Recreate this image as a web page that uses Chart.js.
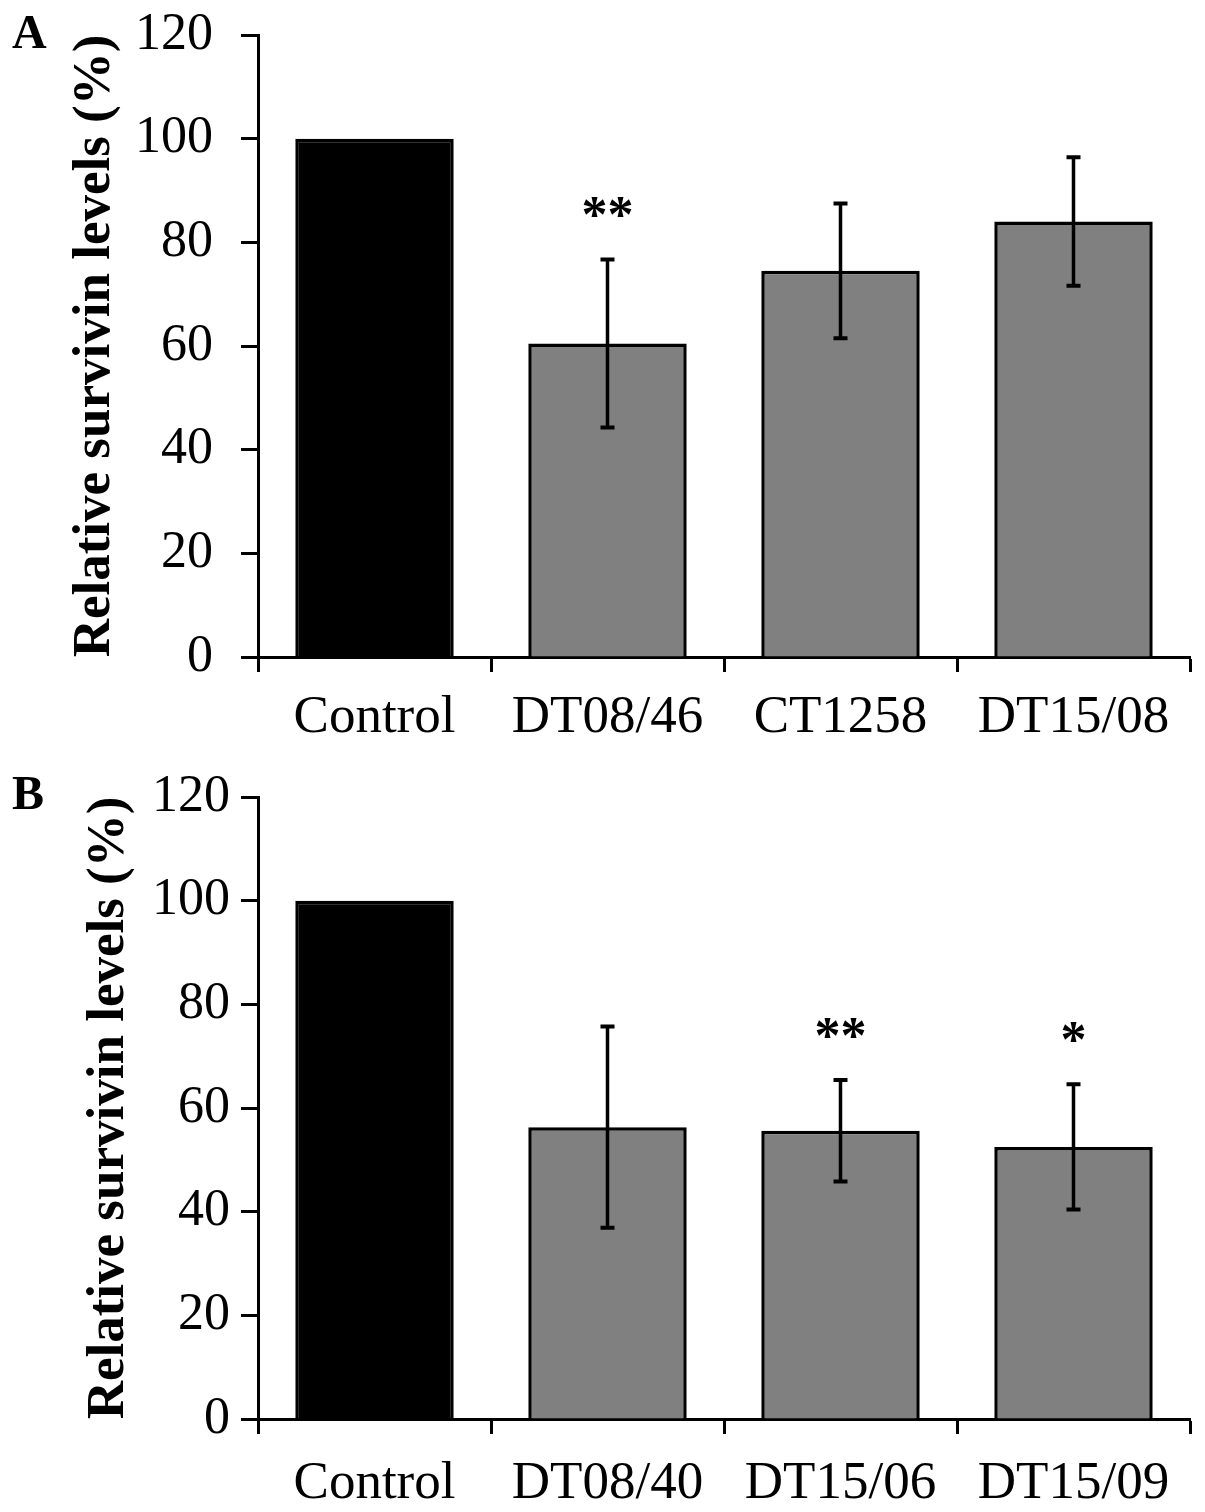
<!DOCTYPE html>
<html lang="en">
<head>
    <meta charset="UTF-8">
    <title>Relative survivin levels</title>
    <script src="https://cdn.jsdelivr.net/npm/chart.js"></script>
    <style>
        body {
            margin: 0;
            background: #ffffff;
        }

        .panel {
            position: absolute;
            left: 0;
            width: 1205px;
        }

        #panelA { top: 0; height: 760px; }
        #panelB { top: 760px; height: 752px; }

        .letter {
            position: absolute;
            left: 12px;
            font: bold 48px "Liberation Serif", serif;
            line-height: 48px;
            color: #000;
        }
    </style>
</head>
<body>
    <div class="panel" id="panelA"><canvas id="chartA"></canvas></div>
    <div class="panel" id="panelB"><canvas id="chartB"></canvas></div>
    <div class="letter" style="top:8px">A</div>
    <div class="letter" style="top:769px">B</div>

    <script>
        // panel A
        const labelsA = ['Control', 'DT08/46', 'CT1258', 'DT15/08'];
        const valuesA = [100, 60.5, 74.5, 84.0];
        const errorsA = [0, 16.2, 13.0, 12.4];
        const starsA = ['', '**', '', ''];

        // panel B
        const labelsB = ['Control', 'DT08/40', 'DT15/06', 'DT15/09'];
        const valuesB = [100, 56.3, 55.6, 52.5];
        const errorsB = [0, 19.4, 9.8, 12.1];
        const starsB = ['', '', '**', '*'];

        const yMin = 0;
        const yMax = 120;
        const yStep = 20;

        const barColors = ['#000000', '#808080', '#808080', '#808080'];
        const serif = '"Liberation Serif", "Times New Roman", serif';

        // draws error bars and significance stars on top of the bars
        const errorBars = {
            id: 'errorBars',
            afterDatasetsDraw(chart, args, opts) {
                const ctx = chart.ctx;
                const x = chart.scales.x;
                const y = chart.scales.y;
                const vals = chart.data.datasets[0].data;
                ctx.save();
                ctx.strokeStyle = '#000';
                ctx.fillStyle = '#000';
                vals.forEach((v, i) => {
                    const e = opts.errors[i];
                    const cx = x.getPixelForValue(i);
                    const top = y.getPixelForValue(v + e);
                    const bot = y.getPixelForValue(v - e);
                    if (e) {
                        ctx.lineWidth = 3.5;
                        ctx.beginPath();
                        ctx.moveTo(cx, top);
                        ctx.lineTo(cx, bot);
                        ctx.stroke();
                        ctx.lineWidth = 4;
                        ctx.beginPath();
                        ctx.moveTo(cx - 7, top);
                        ctx.lineTo(cx + 7, top);
                        ctx.moveTo(cx - 7, bot);
                        ctx.lineTo(cx + 7, bot);
                        ctx.stroke();
                    }
                    if (opts.stars[i]) {
                        ctx.font = 'bold 52px ' + serif;
                        ctx.textAlign = 'center';
                        ctx.textBaseline = 'alphabetic';
                        ctx.fillText(opts.stars[i], cx, top - 27);
                    }
                });
                ctx.restore();
            }
        };

        function makeChart(id, labels, values, errors, stars, g) {
            return new Chart(document.getElementById(id), {
                type: 'bar',
                data: {
                    labels: labels,
                    datasets: [{
                        data: values,
                        backgroundColor: barColors,
                        borderColor: '#000',
                        borderWidth: 3.5,
                        barPercentage: 0.68,
                        categoryPercentage: 1
                    }]
                },
                options: {
                    responsive: true,
                    maintainAspectRatio: false,
                    animation: false,
                    layout: { padding: { top: g.top, right: 15, left: 0, bottom: g.bottom } },
                    plugins: {
                        legend: { display: false },
                        tooltip: { enabled: false },
                        errorBars: { errors: errors, stars: stars }
                    },
                    scales: {
                        x: {
                            ticks: {
                                color: '#000',
                                font: { family: serif, size: 53 },
                                padding: g.xPad,
                                maxRotation: 0,
                                autoSkip: false
                            },
                            grid: {
                                offset: true,
                                drawOnChartArea: false,
                                tickLength: 15,
                                tickColor: '#000',
                                tickWidth: 3
                            },
                            border: { color: '#000', width: 3 },
                            afterFit(s) {
                                s.height = g.xHeight;
                                s.paddingLeft = 0;
                                s.paddingRight = 0;
                            }
                        },
                        y: {
                            min: yMin,
                            max: yMax,
                            ticks: {
                                stepSize: yStep,
                                color: '#000',
                                font: { family: serif, size: 52 },
                                padding: g.yPad
                            },
                            grid: {
                                drawOnChartArea: false,
                                tickLength: 17,
                                tickColor: '#000',
                                tickWidth: 3
                            },
                            border: { color: '#000', width: 3 },
                            title: {
                                display: true,
                                text: 'Relative survivin levels (%)',
                                color: '#000',
                                font: { family: serif, size: 53, weight: 'bold' },
                                padding: { top: g.titlePad, bottom: 0 }
                            },
                            afterFit(s) {
                                s.width = 258;
                                s.paddingTop = 0;
                                s.paddingBottom = 0;
                            }
                        }
                    }
                },
                plugins: [errorBars]
            });
        }

        makeChart('chartA', labelsA, valuesA, errorsA, starsA,
            { top: 35, bottom: 3, xHeight: 100, xPad: 14, yPad: 28, titlePad: 64 });
        makeChart('chartB', labelsB, valuesB, errorsB, starsB,
            { top: 37, bottom: 0, xHeight: 93, xPad: 18, yPad: 11, titlePad: 78 });
    </script>
</body>
</html>
